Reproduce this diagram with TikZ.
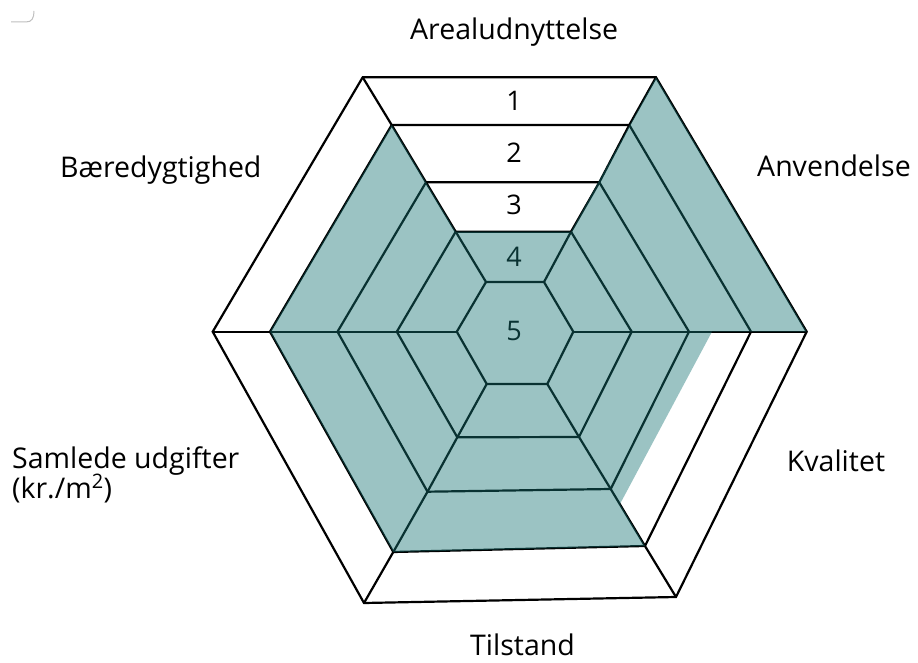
\documentclass[tikz,border=0pt]{standalone}
\usepackage{fontspec}
\setmainfont{Open Sans}
\definecolor{bandteal}{RGB}{23,116,116}
\tikzset{
  gridline/.style={draw=black, line width=2.2pt, line join=miter},
  fillband/.style={fill=bandteal, fill opacity=0.43},
  axislabel/.style={inner sep=0pt, anchor=base west, font=\fontsize{28.5}{34}\selectfont},
  levelnum/.style={inner sep=0pt, anchor=center, font=\fontsize{27}{32}\selectfont}
}
\begin{document}
\begin{tikzpicture}[x=1pt, y=-1pt]
\useasboundingbox (0,0) rectangle (918,663);
% ring vertices
\coordinate (TL1) at (362.7,77.3); \coordinate (TR1) at (656,77.3);
\coordinate (R1) at (806.7,331.7); \coordinate (BR1) at (676,597);
\coordinate (BL1) at (364,603);    \coordinate (L1) at (212.7,331.7);
\coordinate (TL2) at (391.7,125);  \coordinate (TR2) at (629.3,125);
\coordinate (R2) at (751,331.7);   \coordinate (BR2) at (645,546);
\coordinate (BL2) at (393.3,552);  \coordinate (L2) at (270,331.7);
\coordinate (TL3) at (426,182.3);  \coordinate (TR3) at (599.3,182.3);
\coordinate (R3) at (689,331.7);   \coordinate (BR3) at (610.7,489);
\coordinate (BL3) at (427.5,491.7);\coordinate (L3) at (337.5,331.7);
\coordinate (TL4) at (455.7,231.7);\coordinate (TR4) at (571,231.7);
\coordinate (R4) at (631.7,331.7); \coordinate (BR4) at (579,437);
\coordinate (BL4) at (457.3,437.3);\coordinate (L4) at (396.8,331.7);
\coordinate (TL5) at (486,282);    \coordinate (TR5) at (544,282);
\coordinate (R5) at (573.3,331.7); \coordinate (BR5) at (547.3,384);
\coordinate (BL5) at (486.7,384);  \coordinate (L5) at (456.8,331.7);
\coordinate (kvA) at (712,331.7);  \coordinate (kvB) at (620,504);
% rings
\foreach \i in {1,...,5}
  \draw[gridline] (TL\i) -- (TR\i) -- (R\i) -- (BR\i) -- (BL\i) -- (L\i) -- cycle;
% spokes
\foreach \d in {TL,TR,R,BR,BL,L}
  \draw[gridline] (\d1) -- (\d2) -- (\d3) -- (\d4) -- (\d5);
% level numbers
\node[levelnum] (n1) at (514,101) {1};
\node[levelnum] (n2) at (514,153) {2};
\node[levelnum] (n3) at (514,205) {3};
\node[levelnum] (n4) at (514,257) {4};
\node[levelnum] (n5) at (514,331) {5};
% value band
\fill[fillband] (TL4) -- (TR4) -- (TR1) -- (R1) -- (kvA) -- (kvB) -- (BR2) -- (BL2) -- (L2) -- (TL2) -- cycle;
% axis labels
\node[axislabel] (la) at (410,40) {Arealudnyttelse};
\node[axislabel] (lb) at (757,177) {Anvendelse};
\node[axislabel] (lc) at (60,178) {Bæredygtighed};
\node[axislabel] (ld) at (786.7,471.7) {Kvalitet};
\node[axislabel] (le) at (470,655) {Tilstand};
\node[axislabel] (lf) at (12,468) {Samlede udgifter};
\node[axislabel] (lg) at (12,498) {(kr./m\textsuperscript{2})};
% corner mark
\draw[black!25, line width=1pt] (11,22) -- (26,22) .. controls (32,22) and (34,18) .. (34,11);
\end{tikzpicture}
\end{document}
